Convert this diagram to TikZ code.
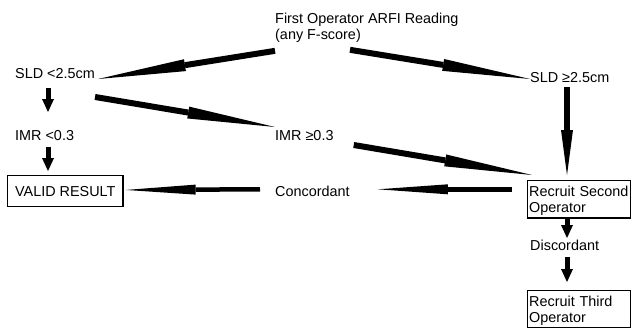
\documentclass[tikz,border=0pt]{standalone}
\usepackage{fontspec}
\setmainfont{Liberation Sans}
\usetikzlibrary{arrows.meta, calc}

\begin{document}
\begin{tikzpicture}[
	x=1pt, y=-1pt,
	txt/.style={inner sep=0pt, font=\fontsize{14.4}{15.5}\selectfont},
	box/.style={txt, draw, line width=1.3pt, align=left, text width=100pt, inner xsep=1.5pt, inner ysep=3pt},
	slant/.style={line width=6pt, -{Triangle[length=88pt, width=12pt, line width=0pt]}},
	flat/.style={line width=4.5pt, -{Triangle[length=70pt, width=10pt, line width=0pt]}},
	drop/.style={line width=6.5pt, -{Triangle[length=45pt, width=12pt, line width=0pt]}},
	stub/.style={line width=5pt, -{Triangle[length=13pt, width=12pt, line width=0pt]}}
	]
	\useasboundingbox (0,0) rectangle (631,327);

	% Texts
	\node[txt, anchor=north west, align=left] (first) at (275,13) {First Operator ARFI Reading\\(any F-score)};
	\node[txt, anchor=base west] (sldlo) at (15,78) {SLD <2.5cm};
	\node[txt, anchor=base west] (sldhi) at (530,82) {SLD ≥2.5cm};
	\node[txt, anchor=base west] (imrlo) at (15,140) {IMR <0.3};
	\node[txt, anchor=base west] (imrhi) at (275,140) {IMR ≥0.3};
	\node[txt, anchor=base west] (conc) at (275,196) {Concordant};
	\node[txt, anchor=base west] (disc) at (530,250) {Discordant};

	% Boxes
	\node[txt, draw, line width=1.3pt, anchor=north west, inner xsep=7.5pt, inner ysep=10.5pt,
		text height=10pt, text depth=0pt] (valid) at (7,175) {VALID RESULT};
	\node[box, anchor=north west] (second) at (527,180) {\rule{0pt}{13pt}Recruit Second\\Operator};
	\node[box, anchor=north west] (third) at (527,290) {\rule{0pt}{13pt}Recruit Third\\Operator};

	% Arrows
	\draw[slant] ($(first.south west)+(0,8.5)$) -- ($(sldlo.base east)+(3,1)$);
	\draw[slant] ($(first.south west)+(75,7.5)$) -- ($(sldhi.base west)+(0,-3)$);
	\draw[slant] ($(sldlo.base east)+(0,19)$) -- ($(imrhi.base west)+(0,-13)$);
	\draw[slant] ($(imrhi.base east)+(20,5)$) -- ($(second.north west)+(5,-5)$);
	\draw[drop] ($(sldhi.base west)+(37,5)$) -- ($(second.north west)+(40,-5)$);
	\draw[flat] ($(second.north west)+(-15,9.3)$) -- ($(conc.base east)+(28,-6.7)$);
	\draw[flat] ($(conc.base west)+(-15,-6.7)$) -- ($(valid.east)+(2,-1.2)$);

	\draw[stub] ($(sldlo.base west)+(33,10)$) -- ($(imrlo.base west)+(33,-28)$);
	\draw[stub] ($(imrlo.base west)+(33,7)$) -- ($(valid.north west)+(41,-4)$);
	\draw[stub] ($(second.south west)+(40,-1)$) -- ($(disc.base west)+(37,-12)$);
	\draw[stub] ($(disc.base west)+(37,7)$) -- ($(third.north west)+(40,-8)$);
\end{tikzpicture}
\end{document}
